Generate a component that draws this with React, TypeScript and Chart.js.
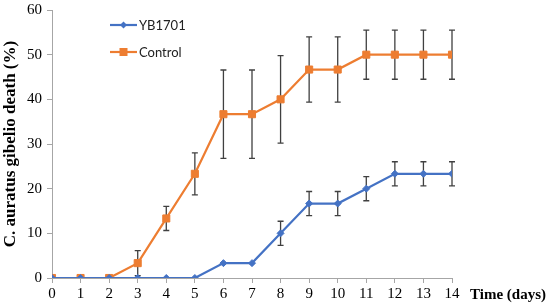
import React, { useEffect, useRef } from "react";
import { Chart, registerables } from "chart.js";

Chart.register(...registerables);

const days = [0, 1, 2, 3, 4, 5, 6, 7, 8, 9, 10, 11, 12, 13, 14];
const yb1701 = [0, 0, 0, 0, 0, 0, 3.33, 3.33, 10, 16.67, 16.67, 20, 23.33, 23.33, 23.33];
const yb1701Err = [0, 0, 0, 0, 0, 0, 0, 0, 2.7, 2.7, 2.7, 2.7, 2.7, 2.7, 2.7];
const control = [0, 0, 0, 3.33, 13.33, 23.33, 36.67, 36.67, 40, 46.67, 46.67, 50, 50, 50, 50];
const controlErr = [0, 0, 0, 2.8, 2.7, 4.7, 9.9, 9.9, 9.8, 7.3, 7.3, 5.5, 5.5, 5.5, 5.5];
const seriesLabels = ["YB1701", "Control"];
const xTitle = "Time (days)";
const yTitle = "C. auratus gibelio death (%)";

const BLUE = "#4472C4";
const ORANGE = "#ED7D31";

const errors = [yb1701Err, controlErr];

const errorBarPlugin = {
  id: "errorBars",
  beforeDatasetsDraw(chart: any) {
    const { ctx, scales } = chart;
    const xs = scales.x;
    const ys = scales.y;
    ctx.save();
    ctx.strokeStyle = "#404040";
    ctx.lineWidth = 1.3;
    chart.data.datasets.forEach((ds: any, i: number) => {
      const errs = errors[i];
      ds.data.forEach((p: any, j: number) => {
        const e = errs[j];
        if (!e) return;
        const x = xs.getPixelForValue(p.x);
        const y1 = ys.getPixelForValue(p.y + e);
        const y2 = ys.getPixelForValue(Math.max(0, p.y - e));
        ctx.beginPath();
        ctx.moveTo(x, y1);
        ctx.lineTo(x, y2);
        ctx.moveTo(x - 3, y1);
        ctx.lineTo(x + 3, y1);
        ctx.moveTo(x - 3, y2);
        ctx.lineTo(x + 3, y2);
        ctx.stroke();
      });
    });
    ctx.restore();
  },
};

const extrasPlugin = {
  id: "extras",
  afterDraw(chart: any) {
    const { ctx, chartArea } = chart;
    ctx.save();
    ctx.font = "bold 15px 'Liberation Serif'";
    ctx.fillStyle = "#000";
    ctx.textBaseline = "middle";
    ctx.textAlign = "left";
    ctx.fillText(xTitle, chartArea.right + 18, chartArea.bottom + 17);
    const items = chart.data.datasets;
    items.forEach((ds: any, i: number) => {
      const y = chartArea.top + 15 + i * 27;
      const x0 = chartArea.left + 58;
      const x1 = x0 + 27;
      ctx.strokeStyle = ds.borderColor;
      ctx.lineWidth = 2.2;
      ctx.beginPath();
      ctx.moveTo(x0, y);
      ctx.lineTo(x1, y);
      ctx.stroke();
      ctx.fillStyle = ds.pointBackgroundColor;
      const cx = (x0 + x1) / 2;
      if (ds.pointStyle === "rect") {
        ctx.fillRect(cx - 4, y - 4, 8, 8);
      } else {
        ctx.beginPath();
        ctx.moveTo(cx, y - 3.5);
        ctx.lineTo(cx + 3.5, y);
        ctx.lineTo(cx, y + 3.5);
        ctx.lineTo(cx - 3.5, y);
        ctx.closePath();
        ctx.fill();
      }
      ctx.fillStyle = "#222";
      ctx.font = "13px Lato";
      ctx.textAlign = "left";
      ctx.fillText(ds.label, x1 + 2, y + 1);
    });
    ctx.restore();
  },
};

export default function App() {
  const ref = useRef<HTMLCanvasElement | null>(null);
  useEffect(() => {
    document.body.style.margin = "0";
    const chart = new Chart(ref.current as HTMLCanvasElement, {
      type: "line",
      data: {
        datasets: [
          {
            label: seriesLabels[0],
            data: days.map((d, i) => ({ x: d, y: yb1701[i] })),
            borderColor: BLUE,
            backgroundColor: BLUE,
            pointBackgroundColor: BLUE,
            pointBorderColor: BLUE,
            pointStyle: "rectRot",
            pointRadius: 3.5,
            pointBorderWidth: 1,
            borderWidth: 2.2,
            tension: 0,
          },
          {
            label: seriesLabels[1],
            data: days.map((d, i) => ({ x: d, y: control[i] })),
            borderColor: ORANGE,
            backgroundColor: ORANGE,
            pointBackgroundColor: ORANGE,
            pointBorderColor: ORANGE,
            pointStyle: "rect",
            pointRadius: 5,
            pointBorderWidth: 1,
            borderWidth: 2.2,
            tension: 0,
          },
        ],
      },
      options: {
        animation: false,
        responsive: true,
        maintainAspectRatio: false,
        layout: { padding: { top: 10, right: 98, left: 0, bottom: 0 } },
        plugins: {
          legend: { display: false },
          tooltip: { enabled: false },
        },
        scales: {
          x: {
            type: "linear",
            min: 0,
            max: 14,
            ticks: {
              stepSize: 1,
              color: "#000",
              font: { family: "'Liberation Serif'", size: 15 },
              padding: 2,
            },
            grid: {
              drawOnChartArea: false,
              drawTicks: true,
              tickLength: 5,
              color: "#a6a6a6",
            },
            border: { color: "#a6a6a6", width: 1 },
            afterFit: (s: any) => {
              s.height = 28;
            },
          },
          y: {
            min: 0,
            max: 60,
            ticks: {
              stepSize: 10,
              color: "#000",
              font: { family: "'Liberation Serif'", size: 15 },
              padding: 5,
            },
            grid: {
              drawOnChartArea: false,
              drawTicks: true,
              tickLength: 5,
              color: "#a6a6a6",
            },
            border: { color: "#a6a6a6", width: 1 },
            title: {
              display: true,
              text: yTitle,
              color: "#000",
              font: { family: "'Liberation Serif'", size: 17, weight: "bold" },
              padding: { top: 0, bottom: 2 },
            },
            afterFit: (s: any) => {
              s.width = 52;
              s.paddingTop = 0;
              s.paddingBottom = 0;
            },
          },
        },
      },
      plugins: [errorBarPlugin, extrasPlugin],
    } as any);
    return () => chart.destroy();
  }, []);
  return (
    <div style={{ position: "absolute", left: 0, top: 0, width: 550, height: 306 }}>
      <canvas ref={ref} />
    </div>
  );
}
